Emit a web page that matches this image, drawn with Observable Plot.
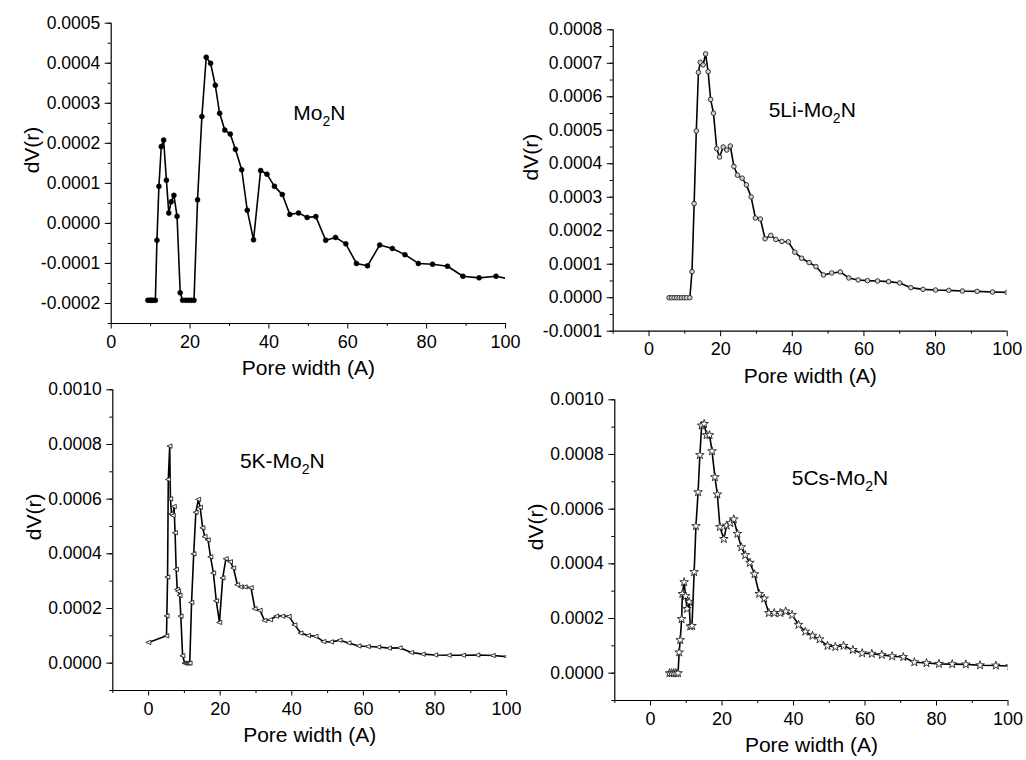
<!DOCTYPE html>
<html>
<head>
<meta charset="utf-8">
<script src="https://cdn.jsdelivr.net/npm/d3@7"></script>
<script src="https://cdn.jsdelivr.net/npm/@observablehq/plot@0.6"></script>
<style>
  html, body { margin: 0; padding: 0; background: #fff; }
  #wrap { position: relative; width: 1026px; height: 760px; overflow: hidden; background: #fff; }
  #wrap svg { position: absolute; left: 0; top: 0; }
</style>
</head>
<body>
<div id="wrap"></div>
<script>
// ---- Data (dV(r) values in units of 1e-4) ----
const mo2nX = [9.3, 9.75, 10.2, 10.6, 11.2, 11.6, 12.1, 12.7, 13.3, 14.0, 14.6, 15.2, 15.9, 16.7, 17.5, 18.1, 18.9, 19.6, 20.3, 21.0, 21.9, 23.0, 24.1, 25.2, 26.4, 27.5, 28.8, 30.2, 31.5, 33.1, 34.5, 36.1, 37.9, 39.5, 41.4, 43.4, 45.3, 47.5, 49.7, 51.9, 54.4, 56.9, 59.5, 62.2, 65.0, 68.1, 71.3, 74.5, 77.9, 81.5, 85.3, 89.2, 93.3, 97.6, 101];
const mo2nY = [-1.92, -1.92, -1.92, -1.92, -1.92, -0.42, 0.925, 1.92, 2.08, 1.08, 0.26, 0.54, 0.7, 0.18, -1.73, -1.92, -1.92, -1.92, -1.92, -1.92, 0.59, 2.67, 4.15, 4.0, 3.45, 2.75, 2.33, 2.23, 1.85, 1.34, 0.33, -0.41, 1.32, 1.23, 0.925, 0.72, 0.225, 0.26, 0.15, 0.17, -0.42, -0.35, -0.51, -1.0, -1.06, -0.54, -0.625, -0.78, -1.0, -1.02, -1.07, -1.32, -1.36, -1.32, -1.39];

const liX = [5.6, 6.3, 7.0, 7.7, 8.4, 9.1, 9.8, 10.5, 11.4, 12.0, 12.6, 13.2, 13.8, 14.3, 15.1, 15.8, 16.5, 17.2, 18.0, 18.9, 19.7, 20.7, 21.7, 22.7, 23.7, 24.7, 26.0, 27.2, 28.5, 29.7, 31.1, 32.4, 34.0, 35.4, 37.1, 38.9, 40.7, 42.6, 44.7, 46.6, 48.7, 51.0, 53.4, 55.8, 58.4, 61.0, 63.8, 66.9, 70.0, 73.1, 76.5, 80.0, 83.7, 87.5, 91.6, 95.9, 100];
const liY = [0, 0, 0, 0, 0, 0, 0, 0, 0, 0.78, 2.81, 4.98, 6.73, 7.03, 6.95, 7.28, 6.75, 5.92, 5.51, 4.45, 4.2, 4.5, 4.41, 4.53, 3.92, 3.66, 3.57, 3.37, 3.01, 2.38, 2.35, 1.76, 1.86, 1.74, 1.68, 1.67, 1.36, 1.18, 1.05, 0.93, 0.68, 0.74, 0.77, 0.59, 0.53, 0.51, 0.50, 0.48, 0.44, 0.30, 0.25, 0.23, 0.22, 0.20, 0.19, 0.17, 0.16];

const kX = [0, 5.0, 5.1, 5.3, 5.5, 5.9, 6.1, 6.4, 6.8, 7.1, 7.4, 7.7, 8.0, 8.3, 8.7, 9.0, 9.5, 10.1, 10.5, 11.0, 11.5, 12.0, 12.6, 13.2, 13.9, 14.4, 15.1, 15.7, 16.6, 17.3, 18.1, 18.9, 19.8, 20.7, 21.6, 22.8, 23.7, 24.8, 25.8, 26.9, 28.6, 29.7, 31.1, 32.4, 34.0, 35.7, 37.4, 39.2, 40.8, 42.5, 44.6, 46.7, 48.9, 51.0, 53.4, 55.9, 58.7, 61.3, 64.2, 67.2, 70.2, 73.4, 76.6, 80.1, 83.9, 87.9, 91.9, 96.2, 100];
const kY = [0.76, 1.0, 1.73, 3.15, 6.72, 7.94, 6.01, 5.46, 5.4, 5.73, 4.77, 3.43, 2.7, 2.63, 2.48, 1.72, 0.27, 0, 0, 0, 0, 2.22, 4.0, 5.52, 5.99, 5.7, 4.95, 4.63, 4.51, 3.89, 3.30, 2.28, 1.49, 3.12, 3.82, 3.71, 3.48, 2.87, 2.79, 2.79, 2.76, 1.99, 1.93, 1.56, 1.59, 1.72, 1.72, 1.71, 1.40, 1.10, 1.01, 0.98, 0.79, 0.78, 0.84, 0.74, 0.63, 0.61, 0.59, 0.55, 0.56, 0.39, 0.33, 0.30, 0.29, 0.29, 0.30, 0.28, 0.24];

const csX = [5.3, 5.9, 6.5, 7.1, 7.7, 8.0, 8.3, 8.7, 8.9, 9.4, 9.8, 10.2, 10.8, 11.1, 11.6, 12.2, 12.7, 13.3, 13.8, 14.3, 15.0, 15.7, 16.5, 17.2, 18.0, 18.7, 19.4, 20.5, 21.3, 22.3, 23.3, 24.3, 25.4, 26.5, 27.8, 29.1, 30.4, 31.8, 33.1, 34.6, 36.3, 37.8, 39.6, 41.4, 43.3, 45.3, 47.3, 49.5, 51.7, 54.0, 56.6, 59.2, 61.9, 64.7, 67.6, 70.7, 73.8, 77.2, 80.7, 84.4, 88.2, 92.2, 96.6, 100.6];
const csY = [0, 0, 0, 0, 0, 0.76, 1.21, 1.98, 2.90, 3.33, 2.82, 2.35, 2.61, 1.71, 1.73, 3.70, 5.38, 6.62, 7.98, 9.06, 9.12, 8.71, 8.71, 8.12, 7.17, 6.54, 5.35, 4.91, 5.40, 5.49, 5.63, 5.10, 4.61, 4.32, 4.04, 3.62, 2.90, 2.73, 2.20, 2.20, 2.20, 2.26, 2.13, 1.77, 1.52, 1.37, 1.24, 1.0, 0.96, 1.0, 0.85, 0.73, 0.71, 0.67, 0.62, 0.59, 0.40, 0.37, 0.34, 0.33, 0.32, 0.29, 0.28, 0.26];

const panelNames = ["Mo2N", "5Li-Mo2N", "5K-Mo2N", "5Cs-Mo2N"];
const xTitle = "Pore width (A)";
const yTitle = "dV(r)";

// tick labels
const xTicksA = [0, 20, 40, 60, 80, 100];
const xMinorA = [10, 30, 50, 70, 90];
const xMinorB = [-10, 10, 30, 50, 70, 90];
const yTicks1 = [-0.0002, -0.0001, 0, 0.0001, 0.0002, 0.0003, 0.0004, 0.0005];
const yTicks2 = [-0.0001, 0, 0.0001, 0.0002, 0.0003, 0.0004, 0.0005, 0.0006, 0.0007, 0.0008];
const yTicks3 = [0, 0.0002, 0.0004, 0.0006, 0.0008, 0.0010];

const FONT = "Arial, 'Liberation Sans', Helvetica, sans-serif";

const triLeft = {
  draw(ctx, size) {
    const r = Math.sqrt(size / Math.PI);
    ctx.moveTo(-r * 1.15, 0);
    ctx.lineTo(r * 0.95, -r * 0.9);
    ctx.lineTo(r * 0.95, r * 0.9);
    ctx.closePath();
  }
};

const panels = [
  {xs: mo2nX, ys: mo2nY, name: panelNames[0], xDomain: [0, 100], yDomain: [-0.00025, 0.0005],
   yTicks: yTicks1, yMinor: d3.range(-0.00025, 0.00051, 0.00005), xMinor: xMinorA,
   m: {left: 110.7, right: 521, top: 22.7, bottom: 437},
   labelAt: [46.2, 0.000259], titleDy: 51, titleDx: -79,
   dot: {symbol: "circle", r: 2.5, fill: "black", stroke: "black", strokeWidth: 0.5}},
  {xs: liX, ys: liY, name: panelNames[1], xDomain: [-10, 100], yDomain: [-0.0001, 0.0008],
   yTicks: yTicks2, yMinor: d3.range(-0.0001, 0.00081, 0.00005), xMinor: xMinorB,
   m: {left: 612.7, right: 19.3, top: 29.3, bottom: 429.3},
   labelAt: [33.4, 0.000539], titleDy: 52, titleDx: -82,
   dot: {symbol: "circle", r: 2.3, fill: "#d0d0d0", stroke: "#222", strokeWidth: 0.9}},
  {xs: kX, ys: kY, name: panelNames[2], xDomain: [-10, 100], yDomain: [-0.0001, 0.0010],
   yTicks: yTicks3, yMinor: d3.range(-0.0001, 0.00101, 0.0001), xMinor: xMinorB,
   m: {left: 112.3, right: 519.9, top: 389.3, bottom: 70},
   labelAt: [25.5, 0.000715], titleDy: 51, titleDx: -79,
   dot: {symbol: triLeft, r: 2.4, fill: "white", stroke: "#222", strokeWidth: 0.9}},
  {xs: csX, ys: csY, name: panelNames[3], xDomain: [-10, 100], yDomain: [-0.0001, 0.0010],
   yTicks: yTicks3, yMinor: d3.range(-0.0001, 0.00101, 0.0001), xMinor: xMinorB,
   m: {left: 614.3, right: 18.5, top: 399.3, bottom: 60},
   labelAt: [39.5, 0.00069], titleDy: 51, titleDx: -79,
   dot: {symbol: "star", r: 2.7, fill: "white", stroke: "#222", strokeWidth: 0.9}}
];

const wrap = document.getElementById("wrap");

for (const p of panels) {
  const data = p.xs.map((x, i) => ({x, y: p.ys[i] * 1e-4}));
  const svg = Plot.plot({
    width: 1026, height: 760,
    marginLeft: p.m.left, marginRight: p.m.right, marginTop: p.m.top, marginBottom: p.m.bottom,
    x: {domain: p.xDomain, axis: null},
    y: {domain: p.yDomain, axis: null},
    style: {background: "transparent", overflow: "visible", fontFamily: FONT, maxWidth: "none", color: "black"},
    marks: [
      Plot.axisX(p.xMinor, {tickSize: 3, tickFormat: () => "", label: null, strokeWidth: 1}),
      Plot.axisX(xTicksA, {tickSize: 5.5, tickPadding: 6, fontSize: 18, tickFormat: d => String(d), label: null, strokeWidth: 1}),
      Plot.axisY(p.yMinor, {tickSize: 3, tickFormat: () => "", label: null, strokeWidth: 1}),
      Plot.axisY(p.yTicks, {tickSize: 6, tickPadding: 5, fontSize: 17.5, tickFormat: d => (Math.abs(d) < 1e-12 ? 0 : d).toFixed(4), label: null, strokeWidth: 1}),
      Plot.ruleX([p.xDomain[0]], {stroke: "black", strokeWidth: 1.2}),
      Plot.ruleY([p.yDomain[0]], {stroke: "black", strokeWidth: 1.2}),
      Plot.text([xTitle], {frameAnchor: "bottom", dy: p.titleDy, fontSize: 21, fill: "black"}),
      Plot.text([yTitle], {frameAnchor: "left", dx: p.titleDx, rotate: -90, fontSize: 21, fill: "black"}),
      Plot.line(data, {x: "x", y: "y", stroke: "black", strokeWidth: 1.6, clip: true}),
      Plot.dot(data, {x: "x", y: "y", ...p.dot, clip: true}),
      Plot.text([p.name], {x: () => p.labelAt[0], y: () => p.labelAt[1], textAnchor: "start", lineAnchor: "bottom",
        fontSize: 21, fill: "black"})
    ]
  });
  // subscript for Mo2N
  d3.select(svg).selectAll("text").filter(function () {
    return this.textContent === p.name;
  }).each(function () {
    const t = d3.select(this);
    const s = t.text();
    const pre = s.slice(0, s.indexOf("Mo2N"));
    t.text("");
    t.append("tspan").text(pre + "Mo");
    t.append("tspan").attr("dy", 6).attr("font-size", 14).text("2");
    t.append("tspan").attr("dy", -6).text("N");
  });
  wrap.appendChild(svg);
}
</script>
</body>
</html>
